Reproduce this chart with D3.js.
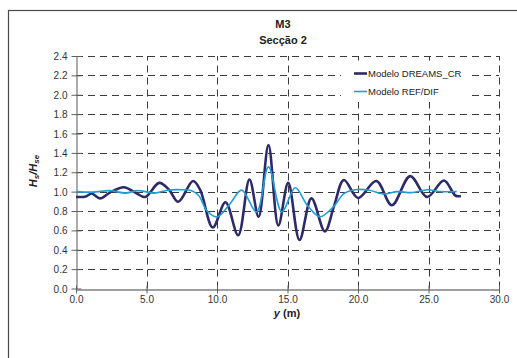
<!DOCTYPE html>
<html>
<head>
<meta charset="utf-8">
<script src="https://cdn.jsdelivr.net/npm/d3@7"></script>
<style>
  html, body { margin: 0; padding: 0; background: #fff; }
  svg { display: block; font-family: "Liberation Sans", Arial, sans-serif; }
</style>
</head>
<body>
<svg id="chart" width="517" height="358"></svg>
<script>
// Wave height ratio along section 2 of model M3
const dreamsX = [0.0, 0.7, 1.1, 1.7, 2.4, 3.4, 4.2, 4.9, 5.9, 6.6, 7.25, 8.3, 8.8, 9.7, 10.6, 11.5, 12.3, 12.95, 13.65, 14.35, 15.05, 15.85, 16.7, 17.65, 18.3, 19.0, 20.0, 21.3, 22.4, 23.7, 24.9, 26.1, 26.9, 27.3];
const dreamsY = [0.945, 0.95, 0.98, 0.93, 0.99, 1.045, 0.99, 0.945, 1.09, 1.02, 0.895, 1.11, 1.02, 0.63, 0.89, 0.55, 1.125, 0.74, 1.48, 0.65, 1.09, 0.50, 0.93, 0.59, 0.85, 1.12, 0.935, 1.11, 0.86, 1.16, 0.945, 1.115, 0.96, 0.955];

const refdifX = [0.0, 1.2, 2.4, 3.5, 4.4, 5.6, 6.5, 7.5, 8.2, 8.7, 9.3, 10.0, 10.9, 11.75, 12.8, 13.65, 14.6, 15.55, 16.4, 17.3, 18.3, 19.0, 19.8, 20.8, 21.8, 22.8, 23.8, 24.9, 25.9, 27.0];
const refdifY = [1.0, 0.995, 1.01, 0.985, 1.01, 0.985, 1.015, 1.02, 1.01, 0.96, 0.8, 0.74, 0.87, 1.015, 0.79, 1.255, 0.79, 1.04, 0.86, 0.74, 0.85, 0.98, 1.02, 1.015, 0.975, 1.0, 0.99, 1.02, 1.0, 1.0];

const xTicks = [0, 5, 10, 15, 20, 25, 30];
const yTicks = [0, 0.2, 0.4, 0.6, 0.8, 1.0, 1.2, 1.4, 1.6, 1.8, 2.0, 2.2, 2.4];
const seriesNames = ["Modelo DREAMS_CR", "Modelo REF/DIF"];
const seriesColors = ["#2c2a68", "#1f9ed6"];

const svg = d3.select("#chart");
const margin = { left: 76, right: 18, top: 56, bottom: 69 };
const W = 517, H = 358;

const x = d3.scaleLinear().domain([0, 30]).range([margin.left, W - margin.right]);
const y = d3.scaleLinear().domain([0, 2.4]).range([H - margin.bottom - 0.5, margin.top]);

// outer frame
svg.append("rect")
  .attr("x", 8.5).attr("y", 10.5).attr("width", 540).attr("height", 400)
  .attr("fill", "#fff").attr("stroke", "#4a4a4a").attr("stroke-width", 1.2);

// dashed grid
const grid = svg.append("g").attr("stroke", "#3a3a3a").attr("stroke-width", 1)
  .attr("stroke-dasharray", "7,5").attr("fill", "none");
grid.selectAll("line.h").data(yTicks.filter(d => d > 0)).join("line")
  .attr("x1", x(0)).attr("x2", x(30))
  .attr("y1", d => Math.round(y(d)) + 0.5).attr("y2", d => Math.round(y(d)) + 0.5);
grid.selectAll("line.v").data(xTicks.filter(d => d > 0)).join("line")
  .attr("x1", d => Math.round(x(d)) + 0.5).attr("x2", d => Math.round(x(d)) + 0.5)
  .attr("y1", y(0)).attr("y2", y(2.4));

// axes
const yAxis = d3.axisLeft(y).tickValues(yTicks).tickFormat(d3.format(".1f"))
  .tickSizeInner(-5).tickSizeOuter(0).tickPadding(0);
const gy = svg.append("g").attr("transform", `translate(${Math.round(x(0)) + 0.5},0)`).call(yAxis);
gy.select(".domain").attr("stroke", "#808080").attr("stroke-width", 1.3);
gy.selectAll(".tick line").attr("stroke", "#606060").attr("x1", -5).attr("x2", 5);
gy.selectAll(".tick text").attr("x", -9).attr("dy", "0.35em")
  .attr("font-size", 10).attr("fill", "#333").attr("font-family", "Liberation Sans, Arial, sans-serif");

const xAxis = d3.axisBottom(x).tickValues(xTicks).tickFormat(d3.format(".1f"))
  .tickSizeOuter(0);
const gx = svg.append("g").attr("transform", `translate(0,${Math.round(y(0)) + 0.5})`).call(xAxis);
gx.select(".domain").attr("stroke", "#808080").attr("stroke-width", 1.3);
gx.selectAll(".tick line").attr("stroke", "#606060").attr("y1", -4).attr("y2", 4);
gx.selectAll(".tick text").attr("y", 6).attr("dy", "0.71em")
  .attr("font-size", 10).attr("fill", "#333").attr("font-family", "Liberation Sans, Arial, sans-serif");

// series
const line = d3.line().x(d => x(d[0])).y(d => y(d[1])).curve(d3.curveCatmullRom.alpha(0.5));
const refPts = d3.zip(refdifX, refdifY);
const dreamsPts = d3.zip(dreamsX, dreamsY);

svg.append("path").datum(dreamsPts).attr("d", line)
  .attr("fill", "none").attr("stroke", seriesColors[0]).attr("stroke-width", 2.6)
  .attr("stroke-linejoin", "round");
svg.append("path").datum(refPts).attr("d", line)
  .attr("fill", "none").attr("stroke", seriesColors[1]).attr("stroke-width", 1.6)
  .attr("stroke-linejoin", "round");

// legend
const lg = svg.append("g");
lg.append("rect").attr("x", 341).attr("y", 62).attr("width", 130).attr("height", 40).attr("fill", "#fff");
const rows = [73.5, 91.5];
seriesNames.forEach((name, i) => {
  lg.append("line").attr("x1", 354).attr("x2", 367).attr("y1", rows[i]).attr("y2", rows[i])
    .attr("stroke", seriesColors[i]).attr("stroke-width", i === 0 ? 2.6 : 1.6);
  lg.append("text").attr("x", 368).attr("y", rows[i]).attr("dy", "0.35em")
    .attr("font-size", 9.5).attr("fill", "#222").text(name);
});

// titles
const cx = 283;
svg.append("text").attr("x", cx).attr("y", 28).attr("text-anchor", "middle")
  .attr("font-size", 11).attr("font-weight", "bold").attr("fill", "#222").text("M3");
svg.append("text").attr("x", cx).attr("y", 44).attr("text-anchor", "middle")
  .attr("font-size", 11).attr("font-weight", "bold").attr("fill", "#222").text("Secção 2");

// y axis title: Hs/Hse
const yl = svg.append("text").attr("transform", "translate(37,171) rotate(-90)")
  .attr("text-anchor", "middle").attr("font-size", 11).attr("font-weight", "bold")
  .attr("font-style", "italic").attr("fill", "#222");
yl.append("tspan").text("H");
yl.append("tspan").attr("font-size", 8).attr("dy", 2).text("s");
yl.append("tspan").attr("dy", -2).text("/H");
yl.append("tspan").attr("font-size", 8).attr("dy", 2).text("se");

// x axis title
const xl = svg.append("text").attr("x", 287).attr("y", 317).attr("text-anchor", "middle")
  .attr("font-size", 11).attr("font-weight", "bold").attr("fill", "#222");
xl.append("tspan").attr("font-style", "italic").text("y");
xl.append("tspan").text(" (m)");
</script>
</body>
</html>
